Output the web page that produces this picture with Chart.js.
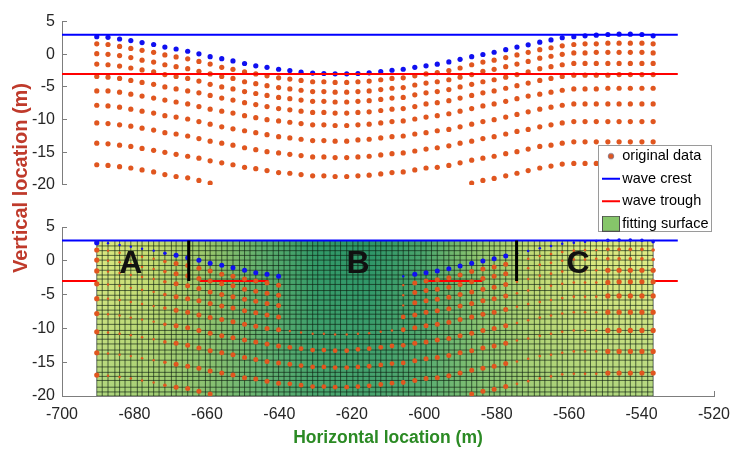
<!DOCTYPE html>
<html>
<head>
<meta charset="utf-8">
<script src="https://cdn.jsdelivr.net/npm/chart.js@4.4.1/dist/chart.umd.min.js"></script>
<style>
html,body{margin:0;padding:0;background:#fff;}
#wrap{position:relative;width:731px;height:450px;overflow:hidden;}
#wrap canvas{position:absolute;left:0;top:0;}
</style>
</head>
<body>
<div id="wrap">
<canvas id="cBottom" width="731" height="450"></canvas>
<canvas id="cTop" width="731" height="450"></canvas>
<canvas id="cOverlay" width="731" height="450"></canvas>
</div>
<script>
// ---------------- DATA ----------------
const xCols = [-690.4,-687.3,-684.1,-681.0,-677.9,-674.7,-671.6,-668.5,-665.3,-662.2,
  -659.1,-655.9,-652.8,-649.6,-646.5,-643.4,-640.2,-637.1,-634.0,-630.8,
  -627.7,-624.6,-621.4,-618.3,-615.2,-612.0,-608.9,-605.8,-602.6,-599.5,
  -596.4,-593.2,-590.1,-586.9,-583.8,-580.7,-577.5,-574.4,-571.3,-568.1,
  -565.0,-561.9,-558.7,-555.6,-552.5,-549.3,-546.2,-543.1,-539.9,-536.8];

const row1 = [2.68,2.59,2.34,2.09,1.79,1.50,1.11,0.81,0.46,0.07,
  -0.37,-0.67,-1.02,-1.41,-1.76,-2.0,-2.29,-2.5,-2.74,-2.88,
  -2.94,-2.99,-2.99,-2.94,-2.84,-2.65,-2.44,-2.29,-2.0,-1.76,
  -1.51,-1.17,-0.77,-0.37,-0.03,0.31,0.71,1.11,1.45,1.85,
  2.19,2.53,2.68,2.83,2.93,3.03,3.08,3.08,3.03,2.83];
const row2 = [1.6,1.5,1.2,0.9,0.6,0.3,-0.1,-0.4,-0.7,-1.1,
  -1.5,-2.0,-2.3,-2.7,-3.0,-3.3,-3.6,-3.8,-4.0,-4.2,
  -4.2,-4.3,-4.3,-4.2,-4.1,-3.9,-3.7,-3.6,-3.3,-3.0,
  -2.8,-2.5,-2.1,-1.6,-1.2,-0.9,-0.5,-0.1,0.3,0.7,
  1.0,1.3,1.5,1.6,1.6,1.7,1.7,1.7,1.7,1.6];
const row3 = [0.1,0.0,-0.2,-0.5,-0.9,-1.2,-1.6,-1.9,-2.2,-2.6,
  -3.0,-3.4,-3.7,-4.2,-4.5,-4.8,-5.1,-5.3,-5.5,-5.7,
  -5.7,-5.8,-5.8,-5.7,-5.6,-5.4,-5.2,-5.1,-4.7,-4.4,
  -4.2,-3.9,-3.5,-3.1,-2.6,-2.3,-1.9,-1.5,-1.1,-0.6,
  -0.3,0.0,0.2,0.2,0.3,0.3,0.3,0.3,0.3,0.2];
const row4 = [-1.5,-1.6,-1.8,-2.1,-2.4,-2.7,-3.1,-3.4,-3.7,-4.1,
  -4.6,-5.0,-5.3,-5.7,-6.0,-6.3,-6.6,-6.8,-7.0,-7.2,
  -7.2,-7.3,-7.3,-7.2,-7.1,-6.9,-6.7,-6.6,-6.2,-5.9,
  -5.7,-5.4,-5.0,-4.6,-4.2,-3.9,-3.5,-3.1,-2.7,-2.2,
  -1.9,-1.6,-1.4,-1.4,-1.4,-1.4,-1.4,-1.4,-1.4,-1.4];
const row5 = [-3.4,-3.5,-3.7,-4.0,-4.3,-4.6,-5.0,-5.3,-5.6,-5.9,
  -6.3,-6.7,-7.0,-7.4,-7.7,-8.0,-8.3,-8.5,-8.7,-8.9,
  -8.9,-9.0,-9.0,-8.9,-8.8,-8.6,-8.4,-8.3,-8.0,-7.6,
  -7.4,-7.1,-6.7,-6.3,-5.9,-5.6,-5.2,-4.8,-4.4,-4.0,
  -3.7,-3.4,-3.2,-3.2,-3.2,-3.2,-3.1,-3.1,-3.1,-3.1];
const row6 = [-5.6,-5.6,-5.8,-6.1,-6.4,-6.7,-7.0,-7.3,-7.6,-8.0,
  -8.4,-8.7,-9.0,-9.4,-9.7,-10.0,-10.2,-10.4,-10.6,-10.8,
  -10.8,-10.9,-10.9,-10.8,-10.7,-10.5,-10.3,-10.2,-9.9,-9.6,
  -9.4,-9.1,-8.7,-8.3,-7.9,-7.6,-7.2,-6.8,-6.4,-6.1,
  -5.8,-5.5,-5.3,-5.3,-5.3,-5.2,-5.2,-5.2,-5.2,-5.2];
const row7 = [-7.8,-7.9,-8.1,-8.4,-8.7,-9.0,-9.4,-9.6,-9.9,-10.3,
  -10.7,-11.1,-11.4,-11.7,-12.0,-12.3,-12.6,-12.8,-13.0,-13.2,
  -13.2,-13.3,-13.3,-13.1,-13.0,-12.8,-12.6,-12.5,-12.2,-12.0,
  -11.7,-11.5,-11.1,-10.7,-10.3,-10.0,-9.6,-9.2,-8.8,-8.4,
  -8.1,-7.8,-7.6,-7.6,-7.6,-7.6,-7.6,-7.6,-7.6,-7.6];
const row8 = [-10.5,-10.6,-10.8,-11.0,-11.3,-11.6,-12.0,-12.2,-12.5,-12.9,
  -13.3,-13.6,-13.9,-14.3,-14.6,-14.9,-15.1,-15.3,-15.5,-15.7,
  -15.7,-15.8,-15.8,-15.7,-15.6,-15.4,-15.2,-15.1,-14.8,-14.5,
  -14.3,-14.0,-13.6,-13.3,-12.9,-12.6,-12.2,-11.8,-11.5,-11.1,
  -10.8,-10.5,-10.3,-10.3,-10.3,-10.3,-10.3,-10.3,-10.3,-10.3];
const row9 = [-13.6,-13.7,-13.9,-14.1,-14.4,-14.7,-15.0,-15.3,-15.6,-15.9,
  -16.3,-16.6,-16.9,-17.3,-17.5,-17.8,-18.1,-18.2,-18.4,-18.6,
  -18.6,-18.7,-18.7,-18.6,-18.5,-18.3,-18.1,-18.0,-17.7,-17.4,
  -17.3,-17.0,-16.6,-16.2,-15.9,-15.6,-15.2,-14.9,-14.5,-14.1,
  -13.9,-13.6,-13.4,-13.4,-13.4,-13.4,-13.4,-13.4,-13.4,-13.4];
const row10 = [-16.9,-17.0,-17.2,-17.4,-17.7,-18.0,-18.4,-18.7,-18.9,-19.3,
  -19.7,-20.5,-20.8,-21.2,-21.5,-21.8,-22.0,-22.2,-22.3,-22.5,
  -22.5,-22.6,-22.6,-22.5,-22.4,-22.2,-22.0,-21.9,-21.6,-21.3,
  -21.1,-20.8,-20.5,-19.7,-19.3,-19.0,-18.6,-18.2,-17.8,-17.4,
  -17.1,-16.8,-16.7,-16.7,-16.7,-16.6,-16.6,-16.6,-16.6,-16.6];
const rowsY = [row1,row2,row3,row4,row5,row6,row7,row8,row9,row10];

const xTickValues = [-700,-680,-660,-640,-620,-600,-580,-560,-540,-520];
const yTickValues = [-20,-15,-10,-5,0,5];

const crestLevel = 3;
const troughLevel = -3;
const refLineX = [-700, -530];
const troughVisibleX = [[-700,-690.4],[-662,-643],[-600,-584],[-536.8,-530]];

const surfaceX = [-690.4, -536.8];
const surfaceTop = 3;
const surfaceBottom = -20;
const meshX = [-690.4,-688.9,-687.3,-685.4,-684.1,-682.6,-681.0,-679.2,-677.9,-676.1,
  -674.7,-673.2,-671.6,-669.8,-668.5,-666.8,-665.3,-663.9,-662.2,-660.4,
  -659.1,-657.5,-655.9,-654.4,-652.8,-651.0,-649.6,-648.1,-646.5,-644.8,
  -643.4,-641.7,-640.2,-638.7,-637.1,-635.4,-634.0,-632.3,-630.8,-629.4,
  -627.7,-626.0,-624.6,-623.1,-621.4,-619.7,-618.3,-616.9,-615.2,-613.4,
  -612.0,-610.5,-608.9,-607.2,-605.8,-604.3,-602.6,-600.9,-599.5,-598.0,
  -596.4,-594.6,-593.2,-591.7,-590.1,-588.4,-586.9,-585.5,-583.8,-582.0,
  -580.7,-579.1,-577.5,-575.8,-574.4,-572.9,-571.3,-569.6,-568.1,-566.7,
  -565.0,-563.3,-561.9,-560.4,-558.7,-557.0,-555.6,-554.1,-552.5,-550.8,
  -549.3,-547.9,-546.2,-544.5,-543.1,-541.6,-539.9,-538.3,-536.8];
const meshY = [3,2.2,1.5,0.8,0.1,-0.7,-1.4,-2.1,-2.7,-3.5,-4.4,-5.1,-5.8,-6.6,-7.3,-7.9,
  -8.6,-9.4,-10.3,-10.9,-11.6,-12.3,-13.2,-13.8,-14.7,-15.7,-16.5,-17.1,-17.7,-18.7,-19.4,-20];

const boundaryX = [-665, -574.5];
const boundaryY = [-3, 3];
const zoneLabels = ['A','B','C'];
const zoneX = [-681, -618.3, -557.5];
const zoneY = [-0.45, -0.45, -0.45];

const legendLabels = ['original data','wave crest','wave trough','fitting surface'];

// ---------------- STYLE ----------------
Chart.defaults.font.family = "'Liberation Sans', Arial, Helvetica, sans-serif";
Chart.defaults.color = '#262626';
const AXIS_GRAY = '#7d7d7d';
const ORANGE = '#e0561f';
const BLUE_PT = '#1010f0';
const CREST_COLOR = '#0000ff';
const TROUGH_COLOR = '#ff0000';
const surfaceStopX = [-690.4,-675,-660,-645,-630,-615,-600,-585,-570,-555,-536.8];
const surfaceStopColor = ['#dde981','#c7dd71','#9ac76b','#5fae6d','#319968','#2c9568',
  '#4aa46c','#90c66f','#c4dc75','#dae87d','#e3ed86'];

// ---------------- HELPERS ----------------
const ptsOf = (ys) => xCols.map((x, i) => ({x: x, y: ys[i]}));
const hline = (y, xr) => [{x: xr[0], y: y}, {x: xr[1], y: y}];
function segmentsData(segs, y) {
  const out = [];
  segs.forEach((s, i) => {
    if (i) out.push({x: s[0], y: null});
    out.push({x: s[0], y: y}, {x: s[1], y: y});
  });
  return out;
}
function lineDs(data, color, width, order) {
  return {type: 'line', data: data, borderColor: color, borderWidth: width,
    pointRadius: 0, fill: false, tension: 0, spanGaps: false, order: order};
}
function yScaleCfg() {
  return {
    type: 'linear', min: -20, max: 5,
    afterBuildTicks: (s) => { s.ticks = yTickValues.map(v => ({value: v})); },
    ticks: {color: '#262626', font: {size: 16}, padding: 12},
    grid: {display: true, drawOnChartArea: false, drawTicks: true, tickLength: -5, tickColor: AXIS_GRAY},
    border: {display: true, color: AXIS_GRAY, width: 1},
    afterFit: (s) => { s.width = 62; }
  };
}
function bottomRadius(row, col) {
  if (col === 0) return 2.6;
  if (col <= 5) return 1.2;
  if (col === 6) return 1.8;
  if (col <= 16) return 2.5;
  if (col <= 26) { if (row <= 4) return 0; if (row === 5) return 1.2; return 2.4; }
  if (col === 27) return row <= 3 ? 1.2 : 2.4;
  if (col <= 36) return 2.5;
  if (col <= 44) return 1.3;
  return row <= 2 ? 1.8 : 2.6;
}

// ---------------- BOTTOM PANEL ----------------
const meshData = [];
meshX.forEach(x => { meshData.push({x: x, y: surfaceBottom}, {x: x, y: surfaceTop}, {x: x, y: null}); });
meshY.forEach(y => { meshData.push({x: surfaceX[0], y: y}, {x: surfaceX[1], y: y}, {x: surfaceX[1], y: null}); });

const boundaryData = [];
boundaryX.forEach((x, i) => {
  if (i) boundaryData.push({x: x, y: null});
  boundaryData.push({x: x, y: boundaryY[0]}, {x: x, y: boundaryY[1]});
});

function surfaceGradient(ctx) {
  const chart = ctx.chart;
  if (!chart.chartArea) return 'rgba(0,0,0,0)';
  const xs = chart.scales.x;
  const x0 = xs.getPixelForValue(surfaceStopX[0]);
  const x1 = xs.getPixelForValue(surfaceStopX[surfaceStopX.length - 1]);
  const g = chart.ctx.createLinearGradient(x0, 0, x1, 0);
  surfaceStopX.forEach((v, i) => {
    g.addColorStop((xs.getPixelForValue(v) - x0) / (x1 - x0), surfaceStopColor[i]);
  });
  return g;
}
function surfaceShade(ctx) {
  const chart = ctx.chart;
  if (!chart.chartArea) return 'rgba(0,0,0,0)';
  const ys = chart.scales.y;
  const g = chart.ctx.createLinearGradient(0, ys.getPixelForValue(surfaceTop), 0, ys.getPixelForValue(surfaceBottom));
  g.addColorStop(0, 'rgba(111,184,120,0)');
  g.addColorStop(0.25, 'rgba(111,184,120,0.06)');
  g.addColorStop(1, 'rgba(111,184,120,0.42)');
  return g;
}

const bottomDatasets = [
  {type: 'line', data: hline(surfaceTop, surfaceX), fill: {value: surfaceBottom},
   backgroundColor: surfaceGradient, borderColor: 'rgba(0,0,0,0)', borderWidth: 1, pointRadius: 0, order: 9},
  {type: 'line', data: hline(surfaceTop, surfaceX), fill: {value: surfaceBottom},
   backgroundColor: surfaceShade, borderColor: 'rgba(0,0,0,0)', borderWidth: 1, pointRadius: 0, order: 8},
  lineDs(meshData, 'rgba(12,30,16,0.64)', 1, 7),
  lineDs(hline(crestLevel, refLineX), CREST_COLOR, 2, 3),
  lineDs(segmentsData(troughVisibleX, troughLevel), TROUGH_COLOR, 2, 3),
  lineDs(boundaryData, '#000000', 3, 0)
];
rowsY.forEach((ys, r) => {
  bottomDatasets.push({
    type: 'scatter', data: ptsOf(ys), order: 1, showLine: false,
    pointBackgroundColor: r === 0 ? BLUE_PT : ORANGE, pointBorderWidth: 0,
    pointRadius: (c) => bottomRadius(r, c.dataIndex)
  });
});

const zoneLetters = {
  id: 'zoneLetters',
  afterDatasetsDraw(chart) {
    const {ctx, scales} = chart;
    ctx.save();
    ctx.font = "bold 32px 'Liberation Sans', Arial, sans-serif";
    ctx.fillStyle = '#111';
    ctx.textAlign = 'center';
    ctx.textBaseline = 'middle';
    zoneLabels.forEach((t, i) => ctx.fillText(t, scales.x.getPixelForValue(zoneX[i]), scales.y.getPixelForValue(zoneY[i])));
    ctx.restore();
  }
};

new Chart(document.getElementById('cBottom'), {
  type: 'scatter',
  data: {datasets: bottomDatasets},
  options: {
    responsive: false, animation: false, events: [],
    layout: {padding: {top: 227, right: 17, bottom: 0, left: 0}},
    plugins: {legend: {display: false}, tooltip: {enabled: false}},
    scales: {
      x: {
        type: 'linear', min: -700, max: -520,
        afterBuildTicks: (s) => { s.ticks = xTickValues.map(v => ({value: v})); },
        ticks: {color: '#262626', font: {size: 16}, padding: 14, maxRotation: 0, autoSkip: false},
        grid: {display: true, drawOnChartArea: false, drawTicks: true, tickLength: -5, tickColor: AXIS_GRAY},
        border: {display: true, color: AXIS_GRAY, width: 1},
        title: {display: true, text: 'Horizontal location (m)', color: '#2b8a24',
                font: {size: 17.5, weight: 'bold'}, padding: {top: 0, bottom: 1}},
        afterFit: (s) => { s.height = 54; s.paddingRight = 16; s.paddingLeft = 16; }
      },
      y: yScaleCfg()
    }
  },
  plugins: [zoneLetters]
});

// ---------------- TOP PANEL ----------------
const topDatasets = [
  lineDs(hline(crestLevel, refLineX), CREST_COLOR, 2, 0),
  lineDs(hline(troughLevel, refLineX), TROUGH_COLOR, 2, 0)
];
rowsY.forEach((ys, r) => {
  topDatasets.push({
    type: 'scatter', data: ptsOf(ys), order: 1, showLine: false,
    pointBackgroundColor: r === 0 ? BLUE_PT : ORANGE, pointBorderWidth: 0, pointRadius: 2.6
  });
});

new Chart(document.getElementById('cTop'), {
  type: 'scatter',
  data: {datasets: topDatasets},
  options: {
    responsive: false, animation: false, events: [],
    layout: {padding: {top: 16, right: 17, bottom: 265, left: 0}},
    plugins: {legend: {display: false}, tooltip: {enabled: false}},
    scales: {
      x: {type: 'linear', display: false, min: -700, max: -520},
      y: yScaleCfg()
    }
  }
});

// ---------------- OVERLAY: axis title + legend ----------------
function markerCanvas(kind) {
  const c = document.createElement('canvas');
  c.width = 23; c.height = 16;
  const g = c.getContext('2d');
  if (kind === 0) {
    g.beginPath(); g.arc(14, 8, 2.8, 0, Math.PI * 2);
    g.fillStyle = ORANGE; g.fill();
    g.lineWidth = 0.8; g.strokeStyle = 'rgba(110,110,140,0.9)'; g.stroke();
  } else if (kind === 1 || kind === 2) {
    g.beginPath(); g.moveTo(5, 8); g.lineTo(23, 8);
    g.lineWidth = 2; g.strokeStyle = kind === 1 ? CREST_COLOR : TROUGH_COLOR; g.stroke();
  } else {
    g.fillStyle = '#86c66a'; g.fillRect(5.5, 0.5, 17, 15);
    g.lineWidth = 1; g.strokeStyle = '#505050'; g.strokeRect(5.5, 0.5, 17, 15);
  }
  return c;
}
const markers = legendLabels.map((t, i) => markerCanvas(i));

const legendFrame = {
  id: 'legendFrame',
  afterLayout(chart) {
    const lg = chart.legend;
    if (!lg) return;
    const w = lg.width;
    lg.left = 594; lg.top = 141;
    lg.right = lg.left + w; lg.bottom = lg.top + 110;
    lg.height = 110;
  },
  beforeDraw(chart) {
    const c = chart.ctx;
    c.save();
    c.fillStyle = '#ffffff';
    c.fillRect(598.5, 145.5, 113, 86);
    c.strokeStyle = '#9a9a9a';
    c.lineWidth = 1;
    c.strokeRect(598.5, 145.5, 113, 86);
    c.restore();
  }
};

new Chart(document.getElementById('cOverlay'), {
  type: 'scatter',
  data: {datasets: []},
  options: {
    responsive: false, animation: false, events: [],
    layout: {padding: {top: 83, bottom: 177, left: 0, right: 0}},
    scales: {
      x: {display: false},
      y: {
        display: true,
        ticks: {display: false}, grid: {display: false}, border: {display: false},
        title: {display: true, text: 'Vertical location (m)', color: '#bf3a2b',
                font: {size: 20, weight: 'bold'}, padding: {top: 9, bottom: 0}}
      }
    },
    plugins: {
      tooltip: {enabled: false},
      legend: {
        display: true, position: 'right', align: 'start',
        labels: {
          usePointStyle: true, boxWidth: 13, padding: 8, color: '#000',
          font: {size: 14.5},
          generateLabels: () => legendLabels.map((t, i) => ({
            text: t, pointStyle: markers[i], fillStyle: '#fff', strokeStyle: '#fff',
            lineWidth: 0, hidden: false, datasetIndex: i
          }))
        }
      }
    }
  },
  plugins: [legendFrame]
});
</script>
</body>
</html>
